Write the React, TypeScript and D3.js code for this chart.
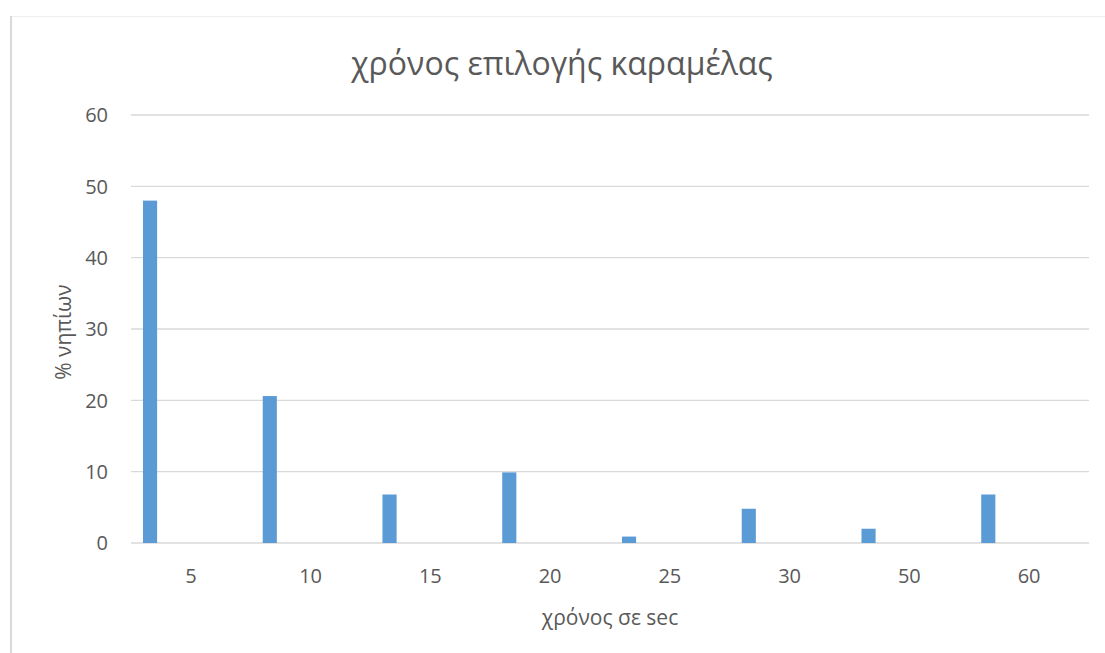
import React from "react";
import * as d3 from "d3";

const categories = ["5", "10", "15", "20", "25", "30", "50", "60"];
const values = [48, 20.6, 6.8, 9.9, 0.9, 4.8, 2, 6.8];
const yTicks = [0, 10, 20, 30, 40, 50, 60];
const title = "χρόνος επιλογής καραμέλας";
const xTitle = "χρόνος σε sec";
const yTitle = "% νηπίων";

const W = 1105;
const H = 653;
const plot = { left: 131, right: 1089, top: 115, bottom: 543 };
const FONT = "'Open Sans', 'Noto Sans', sans-serif";
const TEXT = "#595959";

export default function App() {
  const x = d3.scaleBand<string>().domain(categories).range([plot.left, plot.right]).paddingInner(0).paddingOuter(0);
  const y = d3.scaleLinear().domain([0, 60]).range([plot.bottom, plot.top]);
  const bw = x.bandwidth();
  const barOffset = bw * 0.1;
  const barWidth = bw * 0.118;

  return (
    <svg width={W} height={H} style={{ position: "absolute", left: 0, top: 0, background: "#fff" }}>
      <rect x={0} y={0} width={W} height={H} fill="#fff" />
      <line x1={10} x2={W} y1={16.5} y2={16.5} stroke="#eeeeee" strokeWidth={1} />
      <line x1={11} x2={11} y1={16} y2={H} stroke="#d9d9d9" strokeWidth={2} />
      <text x={562} y={75} textAnchor="middle" fontFamily={FONT} fontSize={32} fill={TEXT}>{title}</text>
      {yTicks.map((t) => (
        <g key={t}>
          <line x1={plot.left} x2={plot.right} y1={y(t)} y2={y(t)} stroke="#d9d9d9" strokeWidth={t === 0 ? 1.5 : 1.3} />
          <text x={108} y={y(t)} dy="0.36em" textAnchor="end" fontFamily={FONT} fontSize={20} fill={TEXT}>{t}</text>
        </g>
      ))}
      {categories.map((c, i) => (
        <g key={c}>
          <rect x={(x(c) as number) + barOffset} y={y(values[i])} width={barWidth} height={plot.bottom - y(values[i])} fill="#5b9bd5" />
          <text x={(x(c) as number) + bw / 2} y={583} textAnchor="middle" fontFamily={FONT} fontSize={20} fill={TEXT}>{c}</text>
        </g>
      ))}
      <text x={610} y={625} textAnchor="middle" fontFamily={FONT} fontSize={21} fill={TEXT}>{xTitle}</text>
      <text transform={`translate(71,332) rotate(-90)`} textAnchor="middle" fontFamily={FONT} fontSize={21} fill={TEXT}>{yTitle}</text>
    </svg>
  );
}
